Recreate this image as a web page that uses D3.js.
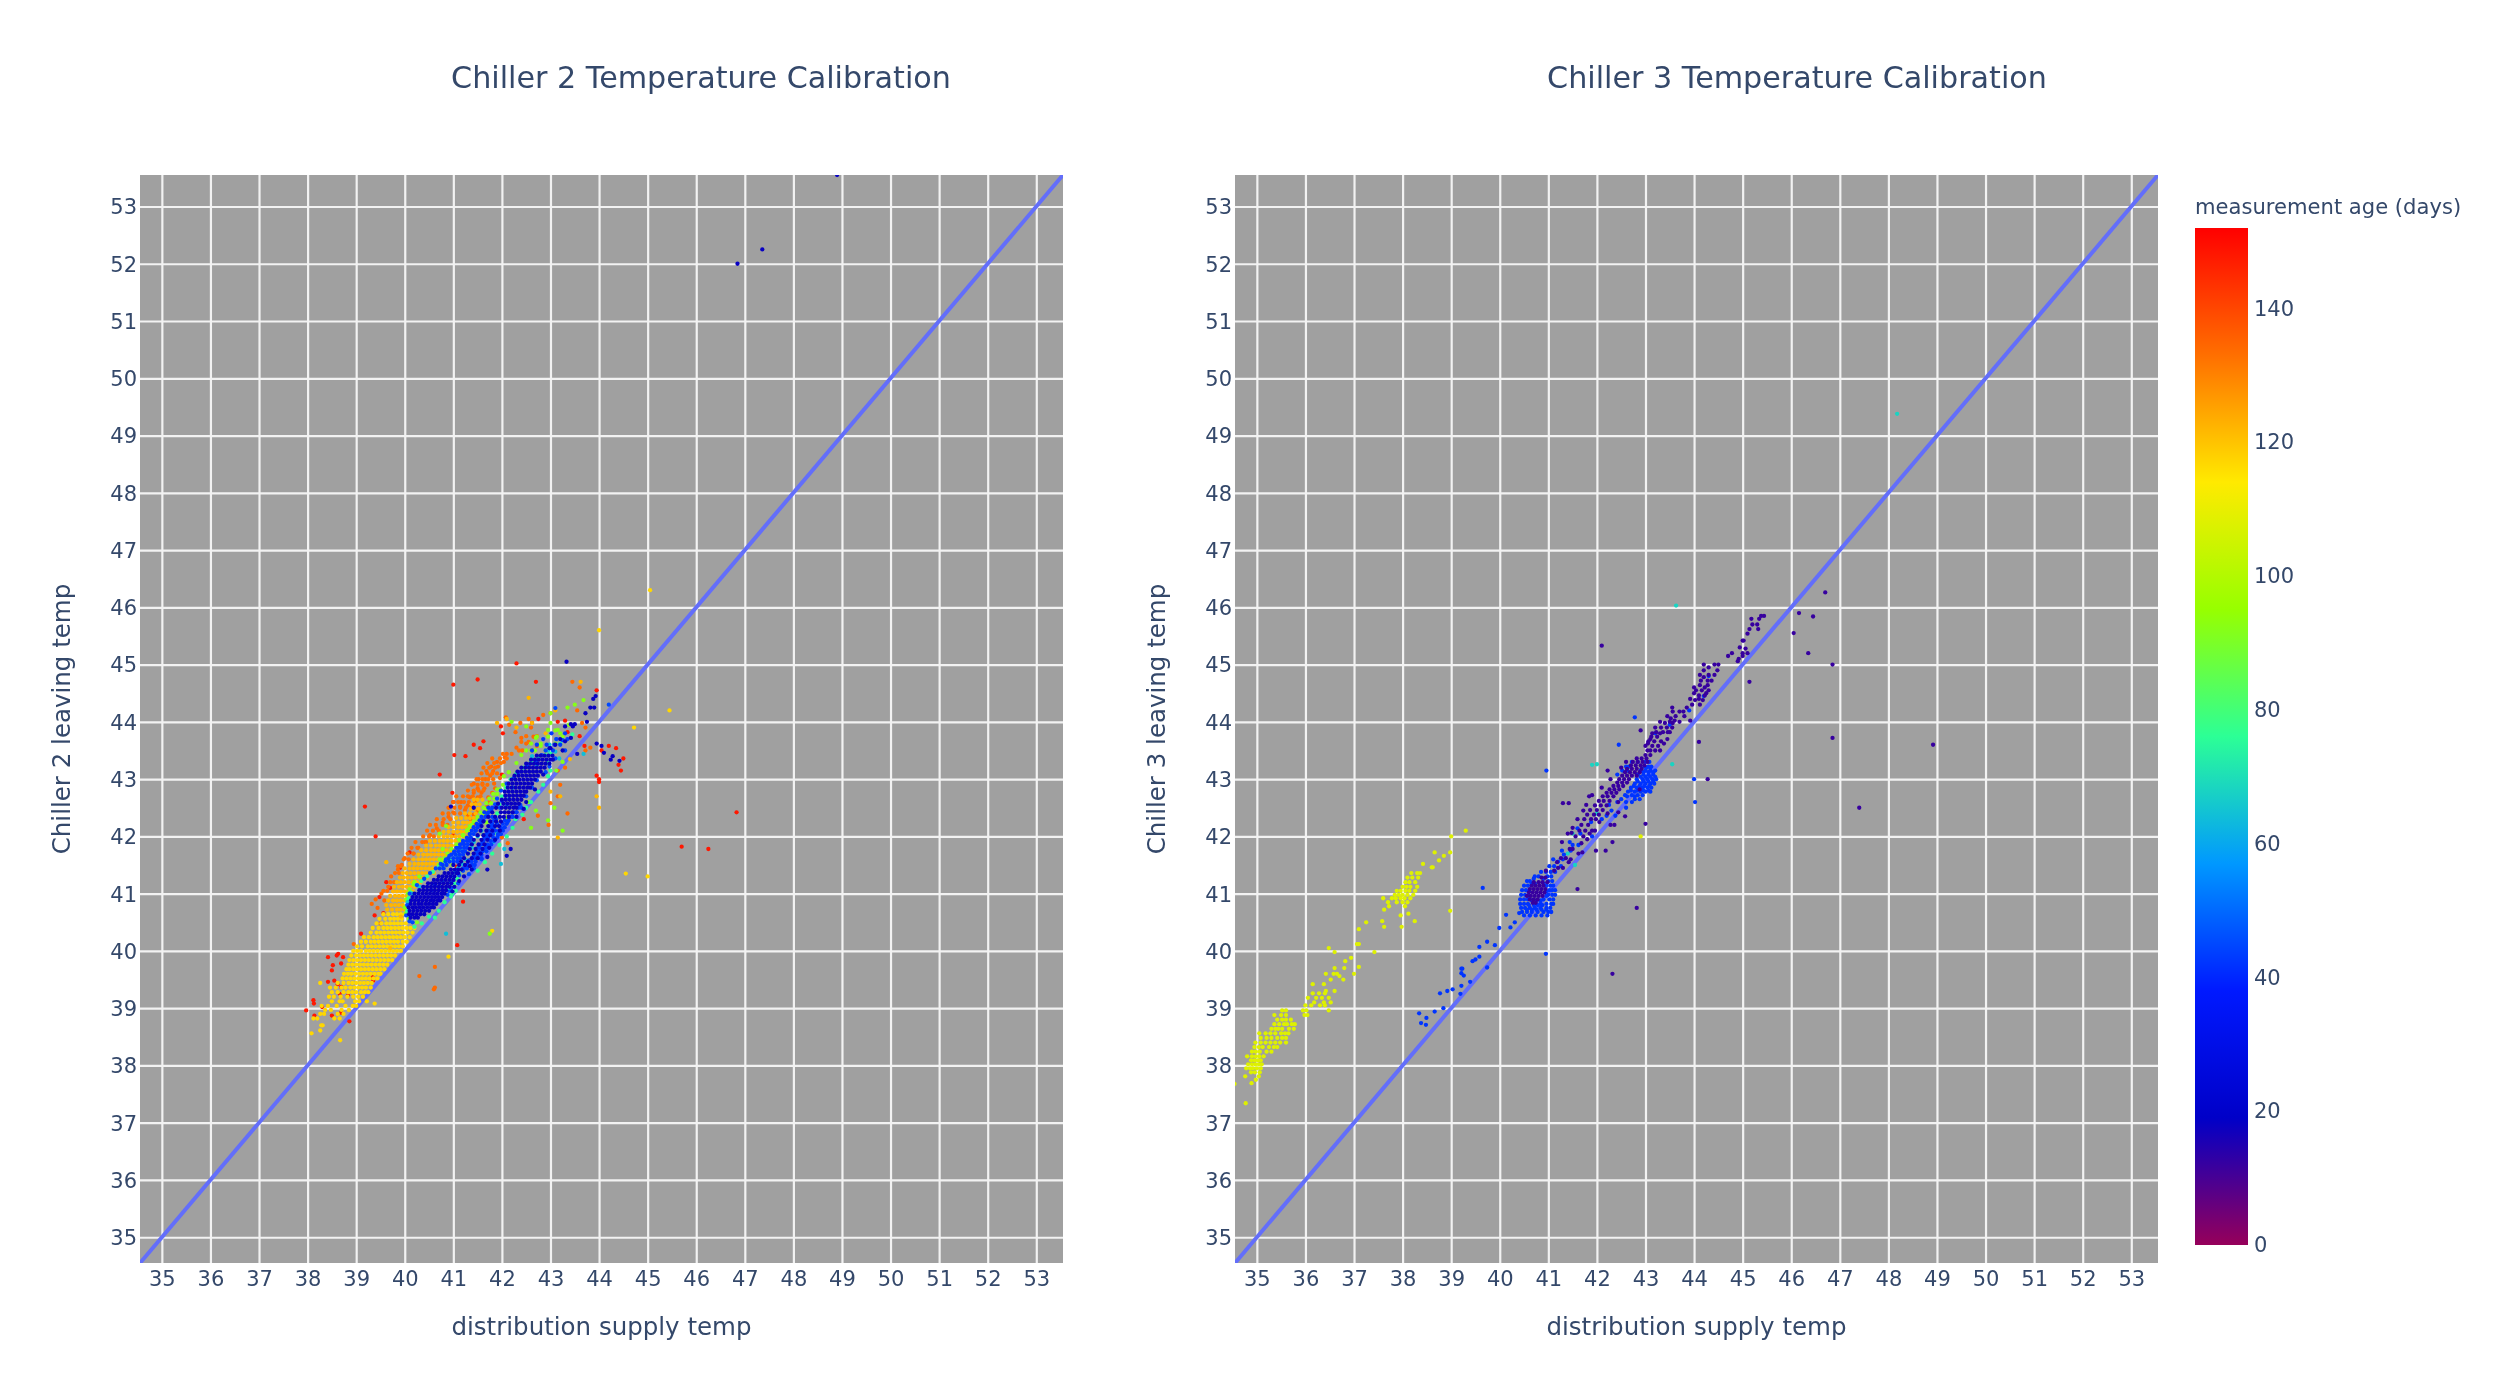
<!DOCTYPE html>
<html><head><meta charset="utf-8">
<script src="https://cdnjs.cloudflare.com/ajax/libs/d3/7.8.5/d3.min.js"></script>
<style>html,body{margin:0;padding:0;background:#fff}svg{display:block;filter:blur(0.55px)}text{font-family:"DejaVu Sans",sans-serif;fill:#34486a}</style>
</head><body><div id="c"></div>
<script>
const tickValues=[35,36,37,38,39,40,41,42,43,44,45,46,47,48,49,50,51,52,53];
const axisRange=[34.55,53.55];
const ageTicks=[0,20,40,60,80,100,120,140];
const rainbowStops=[0,19,38,57,76,95,114,133,152];
const rainbowColors=["rgb(150,0,90)","rgb(0,0,200)","rgb(0,25,255)","rgb(0,152,255)","rgb(44,255,150)","rgb(151,255,0)","rgb(255,234,0)","rgb(255,111,0)","rgb(255,0,0)"];

// rows: [y, x, x, ...]
const c2Red=[[38.96,37.97],[39.14,38.12],[39.08,38.13],[38.87,38.14],[39.02,38.3],[38.87,38.5],[39.92,38.6],[39.95,38.63],[39.89,38.42],[39.89,38.73],[39.75,38.52],[39.78,38.69],[39.66,38.5],[39.48,38.55],[39.46,38.42],[39.42,38.62],[39.37,38.69],[39.25,38.66],[39.22,38.83],[38.92,38.69],[38.77,38.86],[39.54,39.34],[39.48,39.35],[40.94,39.48],[40.3,39.1],[40.62,39.38],[40.66,39.56],[41.2,39.62],[41.45,39.9],[41.1,39.7],[42.0,39.4],[42.52,39.18],[42.02,41.0],[42.6,41.0],[41.72,40.1],[40.86,41.2],[40.1,41.08],[41.05,41.2],[41.47,41.07],[43.08,40.72],[42.76,40.98],[43.6,41.42],[43.66,41.62],[44.65,41.0],[44.74,41.5],[45.02,42.3],[44.7,42.7],[44.55,43.95],[44.05,42.75],[43.92,41.98],[43.8,42.02],[43.42,41.02],[43.4,41.25],[43.54,41.55],[42.3,42.45],[41.78,46.25],[41.82,45.7],[42.42,46.83],[43.08,42.0],[43.5,44.05],[43.58,44.2],[43.54,44.35],[43.36,44.5],[43.25,44.4],[43.15,44.45],[43.0,44.0],[42.95,44.0],[43.06,43.95],[43.58,43.7],[43.75,43.6],[43.82,43.35],[44.0,43.15],[44.02,43.3],[43.98,42.62]];
const c2Orange=[[39.56,40.3],[39.33,40.6],[40.12,38.95],[40.82,39.32],[40.75,39.44],[40.9,39.4],[41.0,39.52],[40.88,39.58],[41.12,39.66],[41.3,39.72],[41.42,39.86],[41.5,39.94],[41.62,40.0],[41.7,40.18],[41.8,40.28],[41.9,40.42],[42.02,40.52],[42.14,40.66],[42.24,40.78],[42.34,40.9],[42.42,41.0],[42.52,41.14],[42.6,41.16],[42.46,41.24],[42.54,41.3],[42.36,41.3],[42.3,41.36],[42.38,41.42],[42.44,41.5],[42.52,41.38],[42.6,41.45],[42.68,41.34],[42.68,41.5],[42.76,41.42],[42.76,41.58],[42.84,41.5],[42.84,41.64],[42.92,41.6],[42.92,41.42],[43.0,41.66],[43.0,41.52],[43.06,41.76],[43.14,41.68],[43.14,41.82],[42.22,41.44],[42.28,41.56],[42.36,41.62],[42.44,41.66],[42.52,41.7],[42.6,41.74],[42.68,41.72],[42.76,41.8],[42.84,41.86],[42.92,41.84],[43.22,41.78],[43.22,41.92],[43.3,41.9],[43.3,42.04],[43.02,41.96],[43.38,42.06],[43.44,42.1],[43.55,42.3],[43.62,42.5],[43.58,42.72],[44.08,42.08],[43.98,42.38],[43.9,42.6],[43.74,42.65],[43.72,42.4],[43.95,42.15],[43.82,42.28],[44.05,42.55],[44.12,42.85],[44.15,43.0],[44.7,43.45],[44.6,43.6],[42.58,43.0],[42.7,43.15],[42.9,43.2],[42.4,43.35],[43.98,43.65],[43.9,43.72],[43.55,43.82],[42.2,42.96],[41.98,42.0],[41.88,42.12],[39.72,40.62],[39.36,40.62],[40.6,40.1],[40.48,39.5],[42.36,42.74],[44.2,43.55],[43.5,43.72],[43.2,43.3],[43.15,43.15]];
const c2OrangeTop=[[41.6,39.98,40.08],[41.7,40.06,40.18],[41.8,40.14,40.26],[41.9,40.22,40.36,40.44],[42.0,40.38,40.5,40.6],[42.1,40.46,40.58,40.7],[42.2,40.52,40.64,40.78,40.88],[42.3,40.66,40.8,40.94],[42.4,40.78,40.9,41.02,41.14],[42.5,40.9,41.02,41.14,41.26],[42.6,41.0,41.1,41.22,41.32],[42.7,41.06,41.2,41.3,41.4,41.56],[42.8,41.3,41.42,41.52,41.62],[42.9,41.38,41.5,41.6,41.7],[43.0,41.48,41.6,41.72,41.82],[43.1,41.58,41.7,41.8,41.9],[43.2,41.62,41.74,41.86],[43.28,41.7,41.84,41.98],[43.36,41.8,41.96,42.1],[43.44,42.02,42.2],[43.5,42.35,42.42,42.62],[43.65,42.4,42.55],[43.75,42.5,42.72],[41.05,39.56,39.64],[41.2,39.7,39.78],[41.36,39.8,39.88],[41.48,39.86,39.92]];
const c2Gold=[[38.44,38.67],[38.56,38.08],[38.61,38.26],[38.7,38.28,38.31],[38.82,38.12,38.2,38.55,38.66],[38.9,38.26,38.34,38.62,38.74],[38.97,38.36,38.48,38.7,38.85],[39.04,38.29,38.42,38.6,38.78,38.93,39.0],[39.08,39.38],[39.12,38.5,38.66,38.72,38.98,39.06,39.22],[39.2,38.44,38.54,38.68,38.82,38.94,39.04,39.14],[39.28,38.5,38.62,38.74,38.84,38.92,39.0,39.1,39.18,39.25],[39.36,38.46,38.58,38.7,38.78,38.88,38.96,39.04,39.12,39.2,39.3],[39.44,38.26,38.62,38.74,38.84,38.92,39.0,39.08,39.16,39.24,39.32],[39.52,38.72,38.8,38.88,38.96,39.04,39.12,39.2,39.28,39.36,39.44],[39.6,38.75,38.83,38.9,38.98,39.06,39.14,39.22,39.3,39.38,39.46,39.5],[39.68,38.8,38.86,38.94,39.02,39.1,39.18,39.26,39.34,39.42,39.5,39.58],[39.76,38.84,38.92,39.0,39.08,39.16,39.24,39.32,39.4,39.48,39.56,39.64],[39.84,38.86,38.94,39.02,39.1,39.18,39.26,39.34,39.42,39.5,39.58,39.66,39.74],[39.92,38.9,39.0,39.08,39.16,39.24,39.32,39.4,39.48,39.56,39.64,39.72,39.8],[40.0,38.94,39.02,39.1,39.2,39.28,39.36,39.44,39.52,39.6,39.68,39.76,39.84,39.92],[40.08,39.02,39.12,39.24,39.32,39.4,39.48,39.56,39.64,39.72,39.8,39.88,39.96],[40.16,39.1,39.2,39.3,39.38,39.46,39.54,39.62,39.7,39.78,39.86,39.96,40.04],[40.24,39.16,39.26,39.36,39.44,39.52,39.6,39.68,39.76,39.84,39.92,40.0,40.1],[40.32,39.3,39.42,39.5,39.58,39.66,39.74,39.82,39.9,39.98,40.06,40.16],[40.4,39.34,39.46,39.56,39.64,39.72,39.8,39.88,39.96,40.04,40.12,40.2],[40.48,39.42,39.52,39.62,39.7,39.78,39.86,39.94,40.02],[40.56,39.48,39.6,39.7,39.78,39.86,39.94],[40.64,39.56,39.66,39.76,39.84,39.92,40.0],[39.9,40.9],[41.35,44.55],[41.3,45.0],[41.1,40.95],[40.35,41.8],[43.9,44.72],[44.2,45.45],[45.6,44.0],[46.3,45.05]];
const c2Amber=[[40.72,39.64,39.74,39.84,39.92,40.0],[40.8,39.62,39.72,39.8,39.88,39.96],[40.88,39.66,39.76,39.84,39.92,40.0],[40.96,39.7,39.8,39.88,39.96,40.04],[41.04,39.76,39.84,39.92,40.0,40.08,40.16],[41.12,39.78,39.88,39.96,40.04,40.12,40.2],[41.2,39.84,39.92,40.0,40.08,40.16,40.24,40.32],[41.28,39.9,39.98,40.06,40.14,40.22,40.3,40.38,40.46],[41.36,39.96,40.04,40.12,40.2,40.28,40.36,40.44,40.52,40.6],[41.44,40.0,40.1,40.18,40.26,40.34,40.42,40.5,40.58,40.66],[41.52,40.1,40.2,40.28,40.36,40.44,40.52,40.6,40.68,40.76],[41.6,40.18,40.28,40.36,40.44,40.52,40.6,40.68,40.76,40.84],[41.68,40.28,40.38,40.46,40.54,40.62,40.7,40.78,40.86,40.94],[41.76,40.34,40.44,40.54,40.62,40.7,40.78,40.86,40.94,41.02],[41.84,40.44,40.54,40.64,40.72,40.8,40.88,40.96,41.04,41.12],[41.92,40.52,40.62,40.72,40.8,40.88,40.96,41.04,41.12,41.2],[42.0,40.7,40.8,40.88,40.96,41.04,41.12,41.2,41.28],[42.08,40.8,40.9,41.0,41.08,41.16,41.24,41.32],[42.16,40.9,41.0,41.1,41.18,41.26,41.34],[42.24,41.0,41.1,41.2,41.28,41.36],[42.32,41.06,41.16,41.26,41.34,41.42],[42.4,41.24,41.34,41.46],[42.48,41.36,41.44,41.52],[42.56,41.38,41.46,41.54],[42.64,41.42,41.5,41.6],[43.35,43.4],[43.9,42.3],[43.98,41.9],[44.05,42.1],[43.98,42.62],[44.2,43.1],[44.42,42.55],[44.7,43.62],[41.55,39.62],[40.05,39.7],[40.6,39.92],[41.98,43.15],[43.8,42.9],[42.78,43.0],[42.7,43.2],[42.5,44.0],[42.7,43.95]];
const c2Lime=[[41.78,40.78],[41.64,41.12],[41.92,41.4],[42.02,41.2],[41.6,40.72],[41.85,41.1],[42.12,41.3],[41.3,40.3],[41.2,40.2],[40.66,40.02],[40.76,40.0],[40.9,40.03],[41.0,40.06],[41.08,40.1],[41.16,40.18],[40.56,40.08],[40.5,40.25],[42.2,41.38],[42.3,41.5],[42.4,41.62],[42.48,41.68],[42.58,41.78],[42.66,41.84],[42.74,41.9],[42.82,41.96],[42.9,42.02],[43.05,42.04],[43.12,42.14],[43.28,42.3],[43.42,42.4],[43.5,42.6],[43.58,42.8],[43.72,42.7],[43.8,43.2],[44.15,43.0],[43.85,43.1],[44.38,43.68],[44.3,43.5],[44.0,42.2],[43.92,42.5],[43.15,43.12],[42.5,43.08],[42.15,42.6],[42.6,42.55],[42.45,42.7],[42.28,42.95],[42.1,43.25],[41.45,40.8],[41.1,40.95],[43.95,43.38],[44.25,43.35],[43.3,43.25],[42.18,40.85],[42.05,40.72],[41.5,40.98],[42.24,41.68],[42.32,42.1],[40.3,41.75],[41.5,40.7],[41.56,40.76],[41.62,40.82],[41.7,40.88],[41.78,40.96],[41.86,41.06],[41.94,41.12],[42.02,41.2],[42.1,41.28],[42.18,41.34],[42.26,41.42],[42.34,41.5],[42.42,41.56],[42.5,41.62],[42.58,41.68],[42.66,41.74],[42.74,41.82],[42.82,41.9],[43.5,42.5,42.68,42.9],[43.62,42.6,42.8,43.1],[43.74,42.72,42.95,43.25],[43.86,42.95,43.15],[43.98,43.0]];
const c2Green=[[41.08,40.92],[41.0,40.98],[40.95,40.95],[40.85,40.82],[40.7,40.7],[40.6,40.5],[40.48,40.35],[40.42,40.2],[41.02,40.12],[40.92,40.08],[40.8,40.06],[40.7,40.05],[41.15,40.24],[41.22,40.34],[41.3,40.46],[41.38,40.58],[41.46,40.7],[41.54,40.84],[41.6,40.95],[41.68,41.05],[41.76,41.18],[41.42,41.16],[41.34,41.12],[41.26,41.08],[41.18,41.02],[41.12,41.02],[41.05,41.05],[40.58,40.62],[42.02,41.62],[42.1,41.7],[42.18,41.78],[42.28,41.85],[42.4,41.9],[42.55,41.95],[42.7,42.0],[42.85,42.08],[43.0,42.18],[43.1,42.3],[43.2,42.45],[43.3,42.6],[43.36,42.75],[43.42,42.9],[43.45,43.0],[43.28,42.95],[43.15,43.0],[43.05,42.95],[42.9,42.85],[42.78,42.75],[42.6,42.6],[42.5,42.5],[42.38,42.42],[42.3,42.28],[42.15,42.22],[42.0,42.1],[41.85,41.95],[41.7,41.8],[41.55,41.65],[41.4,41.5],[43.62,43.2],[43.78,43.45],[42.06,41.9],[41.4,41.04]];
const c2Cyan=[[41.2,40.95],[41.3,41.0],[41.38,41.05],[41.45,41.1],[41.52,41.18],[41.6,41.24],[41.7,41.3],[41.8,41.38],[41.9,41.42],[42.0,41.5],[42.1,41.58],[41.9,41.82],[41.74,41.68],[41.62,41.5],[41.12,40.3],[41.0,40.16],[40.85,40.06],[40.62,40.1],[41.12,40.72],[41.22,40.78],[43.48,43.1],[43.36,43.18],[43.5,42.95],[43.6,42.98],[43.7,43.12],[43.25,42.72],[43.4,42.62],[42.65,42.15],[42.55,42.1],[42.85,42.22],[41.78,42.05],[43.44,43.68],[41.52,41.98],[40.3,40.85]];
const c2Blue=[[40.52,40.1],[40.5,40.16],[40.62,40.03],[40.8,40.05],[41.0,40.1],[41.15,40.25],[41.26,40.4],[41.36,40.52],[41.44,40.64],[41.52,40.74],[41.6,40.85],[41.66,40.92],[41.72,41.02],[41.8,41.1],[41.88,41.2],[41.94,41.3],[42.04,41.34],[42.1,41.46],[42.2,41.52],[42.28,41.62],[42.38,41.7],[42.46,41.78],[42.56,41.86],[42.66,41.9],[42.8,41.98],[41.14,40.62],[41.06,40.55],[40.98,40.88],[41.04,40.92],[41.1,40.96],[41.18,41.1],[41.24,41.0],[41.32,41.12],[41.4,41.2],[41.48,41.26],[41.58,41.32],[41.66,41.42],[41.74,41.48],[41.82,41.52],[41.9,41.6],[41.98,41.68],[42.06,41.74],[42.14,41.82],[42.22,41.9],[42.12,42.0],[42.02,41.92],[41.84,41.74],[41.76,41.62],[41.6,41.58],[41.44,41.42],[41.34,41.32],[42.92,42.1],[43.02,42.25],[43.12,42.34],[43.22,42.52],[43.32,42.7],[43.42,42.82],[43.5,42.9],[43.6,43.08],[43.68,43.25],[43.5,43.3],[43.36,43.1],[42.62,42.0],[42.5,41.96],[42.42,42.3],[42.55,42.38],[42.7,42.5],[42.85,42.62],[42.98,42.72],[43.12,42.9],[43.22,42.98],[42.25,42.12],[42.35,42.2],[42.3,41.88],[42.2,41.8],[42.0,41.7],[44.3,44.2],[44.24,43.1]];
const c2BlueMid=[[41.44,40.72,40.8,41.2,41.28],[41.5,40.78,40.86,41.3,41.38,41.44],[41.56,40.84,40.92,41.0,41.08,41.38,41.46],[41.62,40.9,41.0,41.08,41.14,41.44,41.52,41.58],[41.68,40.96,41.04,41.12,41.2,41.5,41.58],[41.74,41.02,41.1,41.18,41.24,41.52,41.6,41.68],[41.8,41.06,41.14,41.22,41.28,41.54,41.66,41.72],[41.86,41.14,41.22,41.3,41.58,41.7,41.78],[41.92,41.2,41.28,41.34,41.62,41.76,41.84],[41.98,41.28,41.36,41.64,41.72,41.82,41.9],[42.04,41.34,41.42,41.68,41.82,41.92,41.98],[42.1,41.38,41.46,41.72,41.86,41.94,42.02],[42.16,41.42,41.5,41.78,41.98,42.06],[42.22,41.48,41.56,41.8,42.02,42.1],[42.28,41.54,41.6,41.84,42.06,42.14],[42.34,41.58,41.66,41.8,42.16,42.22],[42.42,41.64,41.72,42.24,42.3],[42.5,41.72,41.8,42.34,42.4],[43.5,42.62,43.05],[43.6,42.72,42.92,43.2],[43.7,42.85,43.12,43.35],[43.8,43.02,43.3]];
const c2Navy=[[40.58,40.12,40.2,40.27],[40.64,40.09,40.16,40.24,40.32,40.4],[40.7,40.1,40.18,40.26,40.34,40.42,40.5],[40.76,40.08,40.16,40.23,40.31,40.38,40.46,40.54,40.6],[40.82,40.12,40.2,40.28,40.35,40.43,40.5,40.58,40.65],[40.88,40.13,40.21,40.29,40.37,40.45,40.53,40.6,40.68,40.73],[40.94,40.16,40.24,40.32,40.4,40.48,40.56,40.63,40.7,40.77],[41.0,40.2,40.28,40.36,40.44,40.52,40.6,40.67,40.75,40.82],[41.06,40.3,40.38,40.46,40.54,40.62,40.7,40.78,40.85],[41.12,40.38,40.46,40.54,40.62,40.7,40.77,40.85,40.92],[41.18,40.48,40.56,40.64,40.72,40.8,40.88,40.96],[41.24,40.6,40.68,40.76,40.84,40.92,41.0],[41.3,40.7,40.78,40.86,40.94,41.02],[41.36,40.82,40.9,40.98,41.06,41.1],[41.42,40.95,41.03,41.1,41.17],[41.5,41.0,41.12,41.24],[41.56,41.16,41.3],[41.48,41.34],[41.62,41.22,41.38,41.5],[41.7,41.3,41.42,41.56],[41.78,41.34,41.46,41.6],[41.86,41.38,41.52,41.64],[41.94,41.42,41.58,41.7],[42.02,41.5,41.62,41.76],[42.1,41.56,41.68,41.8],[42.18,41.58,41.72,41.86,41.94],[42.26,41.62,41.76,41.88,41.98],[41.3,41.22],[41.12,41.02],[41.22,41.12],[41.04,40.98],[41.42,41.38],[41.64,41.7],[41.8,41.74],[41.94,41.86],[42.1,41.96],[42.5,41.42],[41.42,41.7],[42.34,41.72,41.86,41.96,42.04,42.14],[42.42,41.8,41.98,42.06,42.14,42.22],[42.5,41.88,42.0,42.08,42.16,42.24,42.3],[42.57,41.92,42.03,42.11,42.19,42.27,42.35],[42.64,42.0,42.08,42.16,42.24,42.32,42.4],[42.71,42.07,42.15,42.23,42.31,42.39,42.45],[42.78,42.06,42.14,42.22,42.3,42.38,42.46,42.5],[42.85,42.12,42.2,42.28,42.36,42.44,42.52,42.58],[42.92,42.14,42.22,42.3,42.38,42.46,42.54,42.62],[42.99,42.2,42.28,42.36,42.44,42.52,42.6,42.68],[43.06,42.26,42.34,42.42,42.5,42.58,42.66,42.74],[43.13,42.32,42.4,42.48,42.56,42.64,42.72,42.8],[43.2,42.4,42.48,42.56,42.64,42.72,42.8,42.88],[43.27,42.5,42.58,42.66,42.74,42.82,42.9,42.98],[43.34,42.6,42.68,42.76,42.84,42.92,43.0,43.05],[43.41,42.72,42.8,42.88,42.96,43.04],[42.52,40.95],[42.48,42.45],[42.34,42.3],[43.08,42.85],[42.82,42.68],[42.6,42.5],[41.78,42.18],[41.66,42.1],[43.54,43.0,42.98],[43.6,43.1],[43.5,43.25],[43.66,43.3],[43.72,43.42],[43.44,43.55],[43.7,43.2],[43.92,43.3,43.46],[43.96,43.42,43.5],[44.0,43.75],[44.15,43.72],[44.25,43.82,43.9],[44.4,43.88],[44.45,43.93],[43.58,44.05],[43.62,43.95],[43.46,44.1],[43.4,44.28],[43.32,44.42],[43.34,44.24],[45.05,43.33],[52.0,46.85],[52.25,47.36],[53.55,48.9]];

const c3Yellow=[[37.34,34.77],[37.68,34.54],[37.69,34.89],[37.75,34.98],[37.81,34.76,35.04],[37.88,34.88,34.96,35.06],[37.95,34.78,34.86,34.92,35.0,35.08],[38.02,34.82,34.9,34.97,35.04,35.1],[38.09,34.88,34.95,35.02,35.08],[38.16,34.8,34.9,34.98,35.05,35.14],[38.24,34.9,34.98,35.06,35.2,35.3],[38.32,34.95,35.04,35.12,35.25,35.35,35.42],[38.4,34.97,35.08,35.18,35.28,35.38,35.48,35.6],[38.48,35.08,35.2,35.3,35.42,35.52,35.6],[38.56,35.05,35.18,35.28,35.38,35.5,35.58,35.65],[38.64,35.3,35.38,35.44,35.52,35.66,35.76],[38.72,35.36,35.46,35.56,35.62,35.72,35.78],[38.8,35.42,35.52,35.6,35.7],[38.88,35.36,35.5,35.6,35.98,36.04],[38.96,35.52,35.6,35.95,36.02,36.48],[39.05,36.0,36.12,36.3,36.4],[39.1,36.18,36.38,36.52],[39.18,36.05,36.22,36.34,36.48],[39.26,36.15,36.28,36.4],[39.3,36.6,36.42],[39.42,36.15,36.38],[39.5,36.52,36.78],[39.56,36.7],[39.6,36.42,36.58,36.65,37.0],[39.7,36.6,36.8],[39.72,37.1],[39.82,36.82],[39.88,36.94],[39.98,36.6,37.42],[40.05,36.48],[40.12,37.06],[40.12,37.1],[40.38,37.1],[40.42,37.62,37.98],[40.5,37.25],[40.52,37.58,38.25],[40.62,37.96],[40.7,38.98],[40.65,38.12],[40.72,37.62],[40.78,37.72,38.05],[40.85,37.7,37.88,38.0,38.1],[40.92,37.6,37.78,37.86,37.96,38.04,38.16],[40.98,37.84,37.92,38.0,38.1,38.22],[41.05,37.88,37.96,38.06,38.14,38.26],[41.12,38.0,38.08,38.16,38.3],[41.2,38.06,38.14,38.26],[41.28,38.1,38.2,38.32],[41.36,38.18,38.3,38.36],[41.46,38.6,38.62],[41.52,38.42],[41.58,38.75],[41.66,38.85],[41.72,38.98,38.66],[42.0,39.0],[42.1,39.3],[42.0,42.9]];
const c3Cyan=[[46.03,43.63],[49.38,48.18],[43.26,43.55],[43.26,42.0],[42.05,41.5],[41.85,41.62],[43.25,41.9],[42.4,42.0],[41.7,41.4],[41.5,41.55]];
const c3Blue=[[38.91,38.34],[38.83,38.49],[38.74,38.38],[38.71,38.48],[38.94,38.66],[39.0,38.84],[39.26,38.77],[39.3,38.92],[39.33,39.03],[39.25,39.19],[39.39,39.21],[39.46,39.39],[39.57,39.26],[39.69,39.21,39.23],[39.61,39.21],[39.82,39.44],[39.9,39.58],[39.85,39.5],[40.16,39.74],[40.07,39.58],[40.1,39.9],[39.71,39.74],[40.4,39.99],[40.63,40.13],[40.41,40.22],[40.5,40.31],[40.66,40.4],[41.1,39.65],[39.95,40.95],[43.15,40.96],[44.08,42.78],[43.6,42.45],[43.0,44.0],[42.6,44.02],[44.8,44.3],[44.45,44.2],[44.2,43.9],[43.95,43.5],[43.8,43.2],[40.62,40.5,40.62,40.74,40.86,40.98],[40.68,40.46,40.56,40.66,40.78,40.9,41.0,41.06],[40.75,40.44,40.52,40.62,40.72,40.84,40.96,41.04],[40.82,40.42,40.5,40.58,40.7,40.84,40.96,41.06,41.1],[40.9,40.42,40.5,40.58,40.9,41.02,41.1],[40.98,40.44,40.52,41.0,41.08,41.14],[41.06,40.46,40.54,41.02,41.08,41.14],[41.14,40.5,40.58,40.96,41.04,41.1],[41.22,40.56,40.62,41.0,41.08],[41.3,40.72,40.8,40.98,41.06],[41.38,40.85,40.95,41.05,41.14],[41.48,41.02,41.12,41.26],[41.6,41.1,41.3],[41.75,41.28,41.46],[41.85,41.5,41.62],[42.05,41.66],[42.25,41.88],[42.45,42.3],[42.6,42.42,42.6,42.72],[42.55,42.25],[42.65,42.5,42.78,42.88],[42.72,42.58,42.72,42.84,42.94],[42.78,42.64,42.78,42.9,43.0,43.1],[42.85,42.7,42.82,42.94,43.04,43.12],[42.92,42.78,42.9,43.0,43.1,43.18],[43.0,42.82,42.94,43.04,43.14,43.22],[43.08,42.42,42.84,42.96,43.06,43.16],[43.15,42.52,42.62,42.9,43.0,43.1,43.2],[43.22,42.6,42.66,42.98,43.06,43.12],[43.3,42.72,42.84,43.0,43.08],[42.36,42.2,42.38],[42.5,42.6],[40.72,40.56,40.66,40.76,40.86,40.96],[40.8,40.6,40.7,40.78,40.88],[40.88,40.66,40.76,40.84],[40.96,40.6,40.96],[41.04,40.6,40.96],[41.18,40.66,40.72,40.9],[41.26,40.7,40.9],[42.7,42.62,42.78],[42.8,42.7,42.84,42.96,43.06],[42.88,42.76,42.88,42.98,43.08],[42.96,42.84,42.96,43.06,43.16],[43.04,42.9,43.0,43.1,43.2],[43.12,42.96,43.06,43.16],[43.2,43.02,43.1],[41.56,41.2],[41.68,41.32],[41.9,41.44],[42.0,41.9],[42.14,41.6],[42.3,42.1]];
const c3Purple=[[39.6,42.32],[41.08,41.6],[40.75,42.82],[41.75,42.18],[41.9,41.28],[42.06,41.48],[41.88,41.68],[42.0,41.56,41.72],[42.1,41.64,41.76],[42.2,41.68,41.82],[42.3,41.74,41.88,41.98],[42.38,41.8,41.94,42.04],[42.46,41.86,42.0,42.12],[42.54,41.96,42.08,42.2],[42.62,42.04,42.14,42.26],[42.7,42.12,42.22,42.34],[42.76,42.2,42.3,42.4],[42.82,42.26,42.36,42.46],[42.88,42.34,42.44,42.54],[42.94,42.42,42.52,42.62],[43.0,42.46,42.56,42.66],[43.06,42.52,42.62,42.72,42.82],[43.12,42.58,42.68,42.78,42.88],[43.18,42.62,42.72,42.82,42.92],[43.24,42.7,42.8,42.9,42.98],[43.3,42.74,42.84,42.94,43.04],[43.36,42.82,42.92,43.02],[41.78,41.44,41.5],[41.62,41.26,41.36],[41.55,41.18,41.42],[41.45,41.2,41.3],[41.7,41.62],[41.4,40.95,41.12],[42.58,41.3,41.42],[42.7,41.84],[42.42,42.44],[42.2,42.36,42.28],[41.75,41.98],[41.9,42.32],[42.1,41.96],[42.35,42.58],[42.82,42.88],[41.2,40.7,40.8,40.88,40.98],[41.14,40.66,40.74,40.82,40.9],[41.08,40.62,40.7,40.78,40.86,40.94],[41.02,40.6,40.68,40.76,40.84,40.92],[40.96,40.56,40.64,40.72,40.8,40.88],[40.9,40.62,40.7,40.78],[40.84,40.68,40.74],[41.28,40.86,40.94],[43.42,43.0,43.1],[43.5,43.04,43.1],[43.58,43.0,43.14,43.26],[43.66,43.06,43.18,43.32],[43.74,43.12,43.24],[43.82,43.22,43.36,43.46,43.5],[43.9,43.32,43.44],[43.98,43.4,43.56],[44.06,43.52],[44.18,43.56,43.7,43.78],[44.3,43.96,44.12],[44.38,44.02,44.18],[44.46,44.1,44.22],[44.55,44.04,44.16,44.3],[44.64,44.12,44.28],[44.72,44.14,44.28,44.36],[44.82,44.12,44.3,44.42],[44.9,44.2,44.48],[45.0,44.2,44.42,44.5],[45.15,44.7,45.0],[45.1,44.92],[45.06,44.9],[45.2,44.78,45.0,45.1],[45.3,44.94],[45.42,45.0,45.02],[45.28,45.06],[45.54,45.1],[45.62,45.14,45.32],[45.7,45.2,45.3],[45.8,45.34,45.18],[45.85,45.44,45.38],[45.55,46.05],[45.9,46.16],[45.84,46.45],[45.2,46.35],[45.0,46.85],[46.26,46.7],[44.7,45.14],[43.72,46.85],[43.6,48.92],[45.33,42.1],[44.02,43.6,43.92],[43.65,44.1],[43.0,44.28],[42.5,47.4],[42.22,43.0],[43.85,42.9],[42.05,41.4],[42.15,41.5],[42.3,41.6],[42.45,41.72],[42.55,41.78],[42.72,41.9],[42.85,42.1],[42.25,42.05],[42.1,41.9],[42.05,41.85],[42.4,42.22],[42.6,42.44],[41.95,41.8],[41.72,41.7],[41.6,41.46],[43.15,42.22],[43.0,42.28],[43.2,42.5],[43.3,42.6],[43.5,43.2,43.3],[43.62,43.05,43.38],[43.7,43.1,43.45],[43.8,43.14,43.3],[43.9,43.2,43.55],[44.0,43.3,43.5,43.7],[44.1,43.45,43.62,43.8],[44.25,43.55,43.85],[44.4,43.92,44.1],[44.5,44.0,44.25],[44.6,44.0,44.22],[44.78,44.2],[44.95,44.3]];

const W=2500,H=1400,plotTop=175,plotBottom=1263,pw=923;
const svg=d3.select("#c").append("svg").attr("width",W).attr("height",H);
const color=d3.scaleLinear().domain(rainbowStops).range(rainbowColors).interpolate(d3.interpolateRgb);
const flat=rows=>rows.flatMap(r=>r.slice(1).map(x=>[x,r[0]]));
const panels=[
 {left:140,title:"Chiller 2 Temperature Calibration",titleX:701,yLab:"Chiller 2 leaving temp",yLabX:61,
  groups:[[c2Red,148],[c2Orange,134],[c2OrangeTop,133],[c2Gold,117],[c2Amber,122],[c2Lime,92],[c2Green,76],[c2Cyan,64],[c2Blue,45],[c2BlueMid,43],[c2Navy,18]]},
 {left:1235,title:"Chiller 3 Temperature Calibration",titleX:1797,yLab:"Chiller 3 leaving temp",yLabX:1156,
  groups:[[c3Yellow,108],[c3Cyan,68],[c3Blue,42],[c3Purple,12]]}
];
const defs=svg.append("defs");
const textFill="#34486a";
panels.forEach((p,i)=>{
 const x=d3.scaleLinear().domain(axisRange).range([p.left,p.left+pw]);
 const y=d3.scaleLinear().domain(axisRange).range([plotBottom,plotTop]);
 defs.append("clipPath").attr("id","clip"+i).append("rect").attr("x",p.left).attr("y",plotTop).attr("width",pw).attr("height",plotBottom-plotTop);
 svg.append("rect").attr("x",p.left).attr("y",plotTop).attr("width",pw).attr("height",plotBottom-plotTop).attr("fill","#a0a0a0");
 const gx=svg.append("g").attr("transform",`translate(0,${plotBottom})`).call(d3.axisBottom(x).tickValues(tickValues).tickSize(-(plotBottom-plotTop)).tickPadding(8).tickFormat(d3.format("d")));
 gx.select(".domain").remove();
 gx.selectAll("line").attr("stroke","#f2f2f2").attr("stroke-width",2.2);
 gx.selectAll("text").attr("font-size",21).attr("fill",textFill).attr("font-family","DejaVu Sans");
 const gy=svg.append("g").attr("transform",`translate(${p.left},0)`).call(d3.axisLeft(y).tickValues(tickValues).tickSize(-pw).tickPadding(3).tickFormat(d3.format("d")));
 gy.select(".domain").remove();
 gy.selectAll("line").attr("stroke","#f2f2f2").attr("stroke-width",2.2);
 gy.selectAll("text").attr("font-size",21).attr("fill",textFill).attr("font-family","DejaVu Sans").attr("dy","0.35em");
 const plot=svg.append("g").attr("clip-path",`url(#clip${i})`);
 plot.append("path").datum(axisRange).attr("d",d3.line().x(d=>x(d)).y(d=>y(d))).attr("stroke","#636efa").attr("stroke-width",4).attr("fill","none");
 p.groups.forEach(([rows,age])=>{
  plot.append("g").selectAll("circle").data(flat(rows)).join("circle")
   .attr("cx",d=>x(d[0])).attr("cy",d=>y(d[1])).attr("r",2.15).attr("fill",color(age));
 });
 svg.append("text").attr("x",p.titleX).attr("y",77).attr("dy","0.35em").attr("text-anchor","middle").attr("font-size",30.2).text(p.title);
 svg.append("text").attr("x",p.left+pw/2).attr("y",1326).attr("dy","0.35em").attr("text-anchor","middle").attr("font-size",24.5).text("distribution supply temp");
 svg.append("text").attr("transform",`translate(${p.yLabX},719) rotate(-90)`).attr("dy","0.35em").attr("text-anchor","middle").attr("font-size",24.5).text(p.yLab);
});
// colour bar
const cbTop=228,cbBottom=1245,cbX=2195,cbW=53;
const ageScale=d3.scaleLinear().domain([0,rainbowStops[8]]).range([cbBottom,cbTop]);
const grad=defs.append("linearGradient").attr("id","cb").attr("x1",0).attr("x2",0).attr("y1",1).attr("y2",0);
rainbowStops.forEach((s,i)=>grad.append("stop").attr("offset",s/152).attr("stop-color",rainbowColors[i]));
svg.append("rect").attr("x",cbX).attr("y",cbTop).attr("width",cbW).attr("height",cbBottom-cbTop).attr("fill","url(#cb)");
const gc=svg.append("g").attr("transform",`translate(${cbX+cbW},0)`).call(d3.axisRight(ageScale).tickValues(ageTicks).tickSize(0).tickPadding(6));
gc.select(".domain").remove();
gc.selectAll("text").attr("font-size",21).attr("fill",textFill).attr("font-family","DejaVu Sans");
svg.append("text").attr("x",cbX).attr("y",207).attr("dy","0.35em").attr("font-size",21.1).text("measurement age (days)");
</script></body></html>
